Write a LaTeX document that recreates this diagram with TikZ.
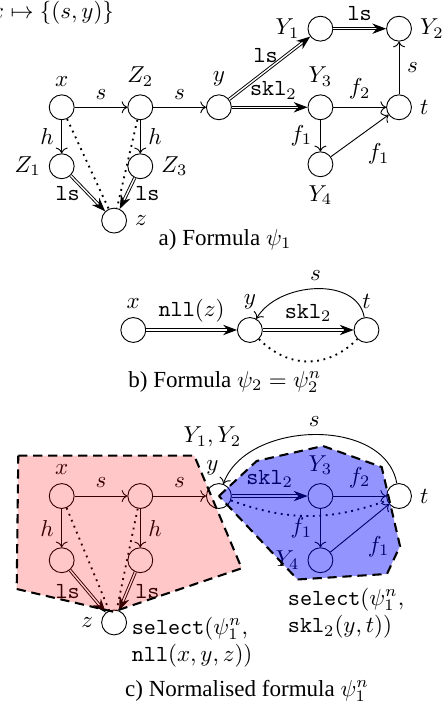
\documentclass[tikz,border=0pt]{standalone}
\usepackage[no-math]{fontspec}
\setmainfont{Liberation Serif}
\usetikzlibrary{arrows.meta,positioning}
\colorlet{selred}{red}
\colorlet{selblue}{blue}
\tikzset{
  vert/.style={circle,draw,minimum size=3.8mm,inner sep=0pt},
  pto/.style={->},
  dbl/.style={double,-{Stealth[length=6pt,width=4.5pt]}},
  weak/.style={dotted,line width=0.8pt},
  part/.style={draw=black,line width=0.9pt,dash pattern=on 4pt off 2.5pt},
  sel/.style={align=left,anchor=north west},
}
\begin{document}
\begin{tikzpicture}[node distance=9mm and 12mm, on grid]
\useasboundingbox (0,0) rectangle (6.809,-10.855);

\node[anchor=base west,inner sep=0pt] (map) at (-0.145,-0.282) {$x \mapsto \{(s,y)\}$};

% a) formula psi_1
\node[vert,label=above:$x$] (ax) at (0.942,-1.638) {};
\node[vert,label=above:$Z_2$,right=of ax] (aZ2) {};
\node[vert,label=above:$y$,right=of aZ2] (ay) {};
\node[vert,label=above:$Y_3$,right=15.5mm of ay] (aY3) {};
\node[vert,label=right:$t$,right=of aY3] (at) {};
\node[vert,label=left:$Y_1$,above=12mm of aY3] (aY1) {};
\node[vert,label=right:$Y_2$,above=12mm of at] (aY2) {};
\node[vert,label=below:$Y_4$,below=8.7mm of aY3] (aY4) {};
\node[vert,label=left:$Z_1$,below=of ax] (aZ1) {};
\node[vert,label=right:$Z_3$,below=of aZ2] (aZ3) {};
\node[vert,label=right:$z$,below right=8.3mm and 8mm of aZ1] (az) {};
\node (capa) at (3.435,-3.664) {a) Formula $\psi_1$};

\draw[pto] (ax) -- node[above]{$s$} (aZ2);
\draw[pto] (aZ2) -- node[above]{$s$} (ay);
\draw[pto] (ax) -- node[left]{$h$} (aZ1);
\draw[pto] (aZ2) -- node[right]{$h$} (aZ3);
\draw[dbl] (aZ1) -- node[left]{\texttt{ls}} (az);
\draw[dbl] (aZ3) -- node[right]{\texttt{ls}} (az);
\draw[weak] (ax) -- (az);
\draw[weak] (aZ2) -- (az);
\draw[dbl] (ay) -- node[above,pos=0.45]{\texttt{ls}} (aY1);
\draw[dbl] (ay) -- node[above,pos=0.55]{\texttt{skl}$_2$} (aY3);
\draw[dbl] (aY1) -- node[above]{\texttt{ls}} (aY2);
\draw[pto] (aY3) -- node[above]{$f_2$} (at);
\draw[pto] (at) -- node[right]{$s$} (aY2);
\draw[pto] (aY3) -- node[left]{$f_1$} (aY4);
\draw[pto] (aY4) -- node[below right]{$f_1$} (at);

% b) formula psi_2
\node[vert,label=above:$x$] (bx) at (2.035,-5.038) {};
\node[vert,label=above:$y$,right=17.8mm of bx] (by) {};
\node[vert,label=above:$t$,right=17.8mm of by] (bt) {};
\node (capb) at (3.435,-5.83) {b) Formula $\psi_2=\psi_2^n$};

\draw[dbl] (bx) -- node[above]{\texttt{nll}$(z)$} (by);
\draw[dbl] (by) -- node[above]{\texttt{skl}$_2$} (bt);
\draw[pto] (bt) to[out=100,in=60] node[above]{$s$} (by);
\draw[weak] (by) to[out=-45,in=-135,looseness=1.1] (bt);

% c) normalised psi_1^n
\node[vert,label=above:$x$] (cx) at (0.942,-7.573) {};
\node[vert,right=of cx] (cz2) {};
\node[vert,right=of cz2,label={[align=center,xshift=-1mm]above:{$Y_1,Y_2$\\$y$}}] (cy) {};
\node[vert,label=above:$Y_3$,right=15.5mm of cy] (cy3) {};
\node[vert,label=right:$t$,right=of cy3] (ct) {};
\node[vert,label=left:$Y_4$,below=9.8mm of cy3] (cy4) {};
\node[vert,below=9.8mm of cx] (cz1) {};
\node[vert,below=9.8mm of cz2] (cz3) {};
\node[vert,label=left:$z$,below right=9.5mm and 8mm of cz1] (cz) {};
\node[sel] (sela) at ([xshift=-0.5mm,yshift=2.1mm]cz.east) {\texttt{select}$(\psi_1^n,$\\\texttt{nll}$(x,y,z))$};
\node[sel] (selb) at ([xshift=-6.2mm,yshift=-3mm]cy4.center) {\texttt{select}$(\psi_1^n,$\\\texttt{skl}$_2(y,t))$};
\node (capc) at (3.771,-10.55) {c) Normalised formula $\psi_1^n$};

\draw[pto] (cx) -- node[above]{$s$} (cz2);
\draw[pto] (cz2) -- node[above]{$s$} (cy);
\draw[pto] (cx) -- node[left]{$h$} (cz1);
\draw[pto] (cz2) -- node[right]{$h$} (cz3);
\draw[dbl] (cz1) -- node[left]{\texttt{ls}} (cz);
\draw[dbl] (cz3) -- node[right]{\texttt{ls}} (cz);
\draw[weak] (cx) -- (cz);
\draw[weak] (cz2) -- (cz);
\draw[dbl] (cy) -- node[above]{\texttt{skl}$_2$} (cy3);
\draw[pto] (cy3) -- node[above]{$f_2$} (ct);
\draw[pto] (cy3) -- node[left]{$f_1$} (cy4);
\draw[pto] (cy4) -- node[below right]{$f_1$} (ct);
\draw[pto] (ct) to[out=100,in=70] node[above]{$s$} (cy);
\draw[weak] (cy) to[out=-20,in=-160] (ct);

% selected parts
\path[part,fill=selred,fill opacity=0.22] (0.279,-6.957) -- (2.966,-6.957) -- (3.690,-8.676) -- (1.730,-9.339) -- (0.255,-8.992) -- cycle;
\path[part,fill=selblue,fill opacity=0.42] (cy.center) -- (3.919,-7.038) -- (4.931,-6.809) -- (5.827,-7.130) -- (6.107,-8.336) -- (5.908,-8.763) -- (4.542,-8.847) -- cycle;
\end{tikzpicture}
\end{document}
